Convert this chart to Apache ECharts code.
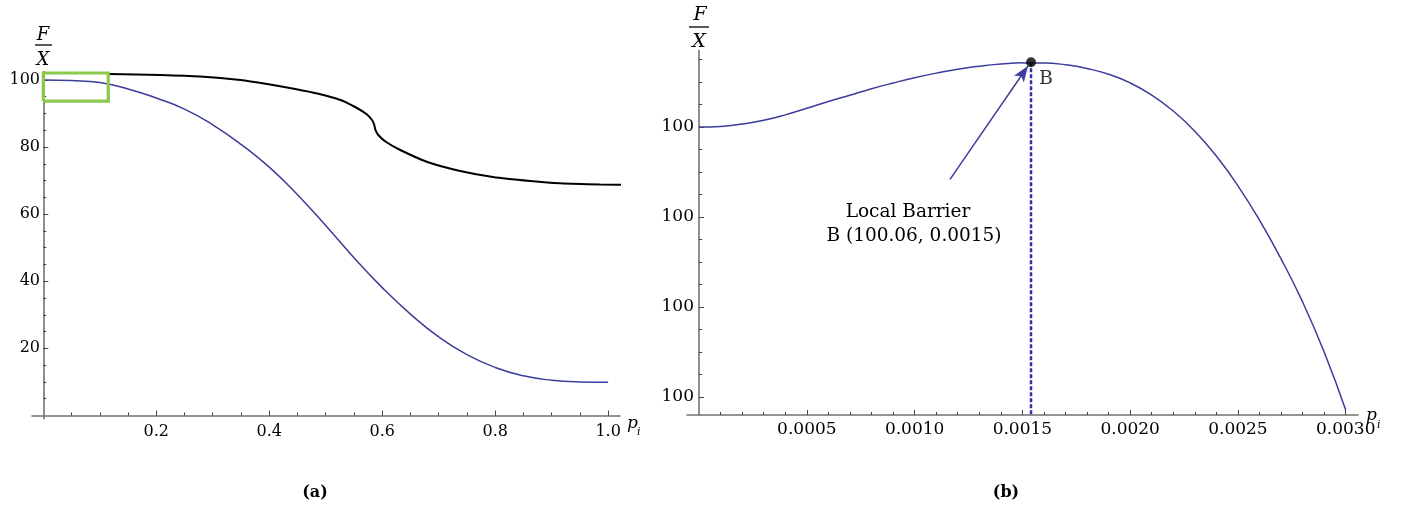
<!DOCTYPE html>
<html>
<head>
<meta charset="utf-8">
<script src="https://cdn.jsdelivr.net/npm/echarts@6.0.0/dist/echarts.min.js"></script>
<style>
  html, body { margin: 0; padding: 0; background: #ffffff; }
  #chart { width: 1405px; height: 510px; }
</style>
</head>
<body>
<div id="chart"></div>
<script>
// ---- Panel (a): F/X against p_i over the full range ----
const panelA_p  = [0, 0.05, 0.1, 0.15, 0.2, 0.25, 0.3, 0.35, 0.4, 0.45, 0.5, 0.55, 0.6, 0.65, 0.7, 0.75, 0.8, 0.85, 0.9, 0.95, 1.0];
const panelA_fx = [100, 99.8, 99.2, 97.3, 94.6, 91.3, 86.6, 80.8, 74.0, 65.8, 56.6, 47.0, 38.1, 30.2, 23.4, 18.1, 14.3, 11.8, 10.5, 10.0, 9.9];
const panelA_xTicks = [0.2, 0.4, 0.6, 0.8, 1.0];
const panelA_yTicks = [20, 40, 60, 80, 100];

// highlighted zoom window on panel (a) and the connector leading to panel (b)
const zoomBox_p  = [0, 0.115];
const zoomBox_fx = [93.7, 102.05];
const connector_p  = [0.115, 0.207, 0.278, 0.349, 0.396, 0.446, 0.485, 0.526, 0.552, 0.572, 0.582, 0.586, 0.588, 0.593, 0.607, 0.632, 0.680, 0.738, 0.796, 0.862, 0.915, 0.986, 1.055];
const connector_fx = [101.76, 101.46, 101.01, 99.97, 98.78, 97.29, 95.95, 94.01, 91.92, 89.83, 88.05, 86.56, 85.07, 83.58, 81.49, 79.11, 75.53, 72.85, 71.06, 69.87, 69.18, 68.82, 68.67];
const connectorHead_p  = [1.027, 1.055, 1.027];
const connectorHead_fx = [71.0, 68.67, 66.2];

// ---- Panel (b): close-up near p_i = 0 ----
const panelB_p  = [0, 0.0001, 0.0002, 0.0003, 0.0004, 0.0005, 0.0006, 0.0007, 0.0008, 0.0009, 0.0010,
                   0.0011, 0.0012, 0.0013, 0.0014, 0.0015, 0.0016, 0.0017, 0.0018, 0.0019, 0.0020,
                   0.0021, 0.0022, 0.0023, 0.0024, 0.0025, 0.0026, 0.0027, 0.0028, 0.0029, 0.0030];
const panelB_fx = [100.0, 100.0005, 100.0026, 100.0060, 100.0108, 100.0166, 100.0226, 100.0283, 100.0340, 100.0391, 100.0438,
                   100.0479, 100.0514, 100.0540, 100.0559, 100.0570, 100.0569, 100.0553, 100.0520, 100.0469, 100.0392,
                   100.0284, 100.0142, 99.9963, 99.9742, 99.9477, 99.9172, 99.8828, 99.8445, 99.8000, 99.7484];
const panelB_xTicks = [0.0005, 0.0010, 0.0015, 0.0020, 0.0025, 0.0030];
const panelB_yTicks = [99.76, 99.84, 99.92, 100.00];
const barrierB = [0.00154, 100.0575];
const barrierArrowTail = [0.001164, 99.9535];
const barrierArrowTip  = [0.001526, 100.0542];

const axisGrey = '#737373';
const curveBlue = '#3c3c9b';
const serif = '"DejaVu Serif", "Liberation Serif", serif';

function steps(from, to, step) {
  const out = [];
  const n = Math.round((to - from) / step);
  for (let i = 0; i <= n; i++) out.push(+(from + i * step).toPrecision(10));
  return out;
}
function pairs(xs, ys) { return xs.map((x, i) => [x, ys[i]]); }

function majorAxis(dim, grid, min, max, ticks, fmt, fontSize, margin) {
  return {
    type: 'value', gridIndex: grid, min: min, max: max,
    position: dim === 'x' ? 'bottom' : 'left',
    splitLine: { show: false },
    axisLine: { show: true, onZero: true, lineStyle: { color: axisGrey, width: 1.6 } },
    axisTick: { show: true, inside: true, length: 5, customValues: ticks, lineStyle: { color: '#444', width: 1 } },
    axisLabel: { show: true, customValues: ticks, formatter: fmt, margin: margin,
                 color: '#000', fontFamily: serif, fontSize: fontSize }
  };
}
function minorAxis(dim, grid, min, max, ticks) {
  return {
    type: 'value', gridIndex: grid, min: min, max: max,
    position: dim === 'x' ? 'bottom' : 'left',
    splitLine: { show: false },
    axisLine: { show: false, onZero: true },
    axisTick: { show: true, inside: true, length: 3, customValues: ticks, lineStyle: { color: '#444', width: 1 } },
    axisLabel: { show: false }
  };
}

const chart = echarts.init(document.getElementById('chart'), null, { renderer: 'canvas' });

const option = {
  animation: false,
  backgroundColor: '#ffffff',
  grid: [
    { left: 32, right: 785, top: 71.5, bottom: 91.2, outerBoundsMode: 'none', containLabel: false },
    { left: 687, right: 47, top: 50.5, bottom: 95, outerBoundsMode: 'none', containLabel: false }
  ],
  xAxis: [
    majorAxis('x', 0, -0.02, 1.021, panelA_xTicks, v => v.toFixed(1), 16, 5),
    minorAxis('x', 0, -0.02, 1.021, steps(0.05, 1.0, 0.05)),
    majorAxis('x', 1, -0.000056, 0.003057, panelB_xTicks, v => v.toFixed(4), 17, 6),
    minorAxis('x', 1, -0.000056, 0.003057, steps(0.0001, 0.003, 0.0001))
  ],
  yAxis: [
    majorAxis('y', 0, -1, 102.5, panelA_yTicks, v => String(Math.round(v)), 16, -8),
    minorAxis('y', 0, -1, 102.5, steps(5, 100, 5)),
    majorAxis('y', 1, 99.744, 100.068, panelB_yTicks, v => String(Math.round(v)), 17, -7),
    minorAxis('y', 1, 99.744, 100.068, steps(99.76, 100.06, 0.02))
  ],
  series: [
    {
      name: 'F/X (a)', type: 'line', xAxisIndex: 0, yAxisIndex: 0,
      data: pairs(panelA_p, panelA_fx), smooth: 0.5, showSymbol: false,
      lineStyle: { color: curveBlue, width: 1.5 }
    },
    {
      name: 'zoom window', type: 'line', xAxisIndex: 0, yAxisIndex: 0, clip: false,
      data: [[zoomBox_p[0], zoomBox_fx[0]], [zoomBox_p[1], zoomBox_fx[0]], [zoomBox_p[1], zoomBox_fx[1]],
             [zoomBox_p[0], zoomBox_fx[1]], [zoomBox_p[0], zoomBox_fx[0]]],
      showSymbol: false, z: 5,
      lineStyle: { color: '#8cc84b', width: 3.2, join: 'miter' }
    },
    {
      name: 'connector', type: 'line', xAxisIndex: 0, yAxisIndex: 0, clip: false,
      data: pairs(connector_p, connector_fx), smooth: 0.25, showSymbol: false,
      lineStyle: { color: '#000', width: 2 }
    },
    {
      name: 'connector head', type: 'line', xAxisIndex: 0, yAxisIndex: 0, clip: false,
      data: pairs(connectorHead_p, connectorHead_fx), showSymbol: false,
      lineStyle: { color: '#000', width: 2 }
    },
    {
      name: 'F/X (b)', type: 'line', xAxisIndex: 2, yAxisIndex: 2,
      data: pairs(panelB_p, panelB_fx), smooth: 0.5, showSymbol: false,
      lineStyle: { color: curveBlue, width: 1.5 },
      markLine: {
        silent: true, symbol: ['none', 'arrow'], symbolSize: [9, 16],
        label: { show: false },
        lineStyle: { color: curveBlue, width: 1.5, type: 'solid' },
        data: [[{ coord: barrierArrowTail }, { coord: barrierArrowTip }]]
      }
    },
    {
      name: 'barrier drop', type: 'line', xAxisIndex: 2, yAxisIndex: 2,
      data: [barrierB, [barrierB[0], 99.744]], showSymbol: false,
      lineStyle: { color: '#3030a8', width: 2.5, type: [4, 2] }
    },
    {
      name: 'B', type: 'scatter', xAxisIndex: 2, yAxisIndex: 2, z: 6,
      data: [barrierB], symbolSize: 10, itemStyle: { color: '#000' },
      label: { show: true, formatter: 'B', position: [13, 12], color: '#000',
               fontFamily: serif, fontSize: 19 }
    }
  ],
  graphic: [
    // F / X axis titles
    { type: 'text', x: 43, y: 35, style: { text: 'F', font: 'italic 18px ' + serif, fill: '#000', align: 'center', verticalAlign: 'middle', textAlign: 'center', textVerticalAlign: 'middle' } },
    { type: 'line', shape: { x1: 35, y1: 45, x2: 52, y2: 45 }, style: { stroke: '#000', lineWidth: 1.3 } },
    { type: 'text', x: 43, y: 60, style: { text: 'X', font: 'italic 18px ' + serif, fill: '#000', align: 'center', verticalAlign: 'middle', textAlign: 'center', textVerticalAlign: 'middle' } },
    { type: 'text', x: 700, y: 15, style: { text: 'F', font: 'italic 19px ' + serif, fill: '#000', align: 'center', verticalAlign: 'middle', textAlign: 'center', textVerticalAlign: 'middle' } },
    { type: 'line', shape: { x1: 689, y1: 27, x2: 709, y2: 27 }, style: { stroke: '#000', lineWidth: 1.3 } },
    { type: 'text', x: 699, y: 42, style: { text: 'X', font: 'italic 19px ' + serif, fill: '#000', align: 'center', verticalAlign: 'middle', textAlign: 'center', textVerticalAlign: 'middle' } },
    // p_i axis titles
    { type: 'text', x: 627, y: 424, style: { text: 'p', font: 'italic 17px ' + serif, fill: '#000', align: 'left', verticalAlign: 'middle', textAlign: 'left', textVerticalAlign: 'middle' } },
    { type: 'text', x: 637, y: 432, style: { text: 'i', font: 'italic 11px ' + serif, fill: '#000', align: 'left', verticalAlign: 'middle', textAlign: 'left', textVerticalAlign: 'middle' } },
    { type: 'text', x: 1366, y: 416, style: { text: 'p', font: 'italic 17px ' + serif, fill: '#000', align: 'left', verticalAlign: 'middle', textAlign: 'left', textVerticalAlign: 'middle' } },
    { type: 'text', x: 1377, y: 425, style: { text: 'i', font: 'italic 11px ' + serif, fill: '#000', align: 'left', verticalAlign: 'middle', textAlign: 'left', textVerticalAlign: 'middle' } },
    // annotation for the local barrier
    { type: 'text', x: 908, y: 212, style: { text: 'Local Barrier', font: '18.5px ' + serif, fill: '#000', align: 'center', verticalAlign: 'middle', textAlign: 'center', textVerticalAlign: 'middle' } },
    { type: 'text', x: 914, y: 236, style: { text: 'B (100.06, 0.0015)', font: '18.5px ' + serif, fill: '#000', align: 'center', verticalAlign: 'middle', textAlign: 'center', textVerticalAlign: 'middle' } },
    // panel captions
    { type: 'text', x: 315, y: 493, style: { text: '(a)', font: 'bold 16px ' + serif, fill: '#000', align: 'center', verticalAlign: 'middle', textAlign: 'center', textVerticalAlign: 'middle' } },
    { type: 'text', x: 1006, y: 493, style: { text: '(b)', font: 'bold 16px ' + serif, fill: '#000', align: 'center', verticalAlign: 'middle', textAlign: 'center', textVerticalAlign: 'middle' } }
  ]
};

chart.setOption(option);
</script>
</body>
</html>
